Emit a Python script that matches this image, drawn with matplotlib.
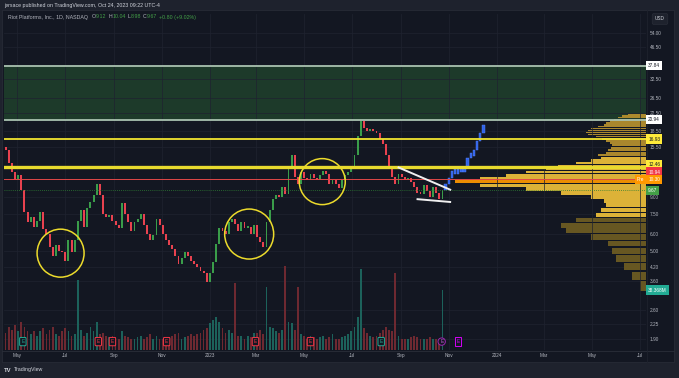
import numpy as np
import pandas as pd
import matplotlib
matplotlib.use('Agg')
import matplotlib.pyplot as plt
import matplotlib.dates as mdates
from matplotlib.patches import Ellipse, Rectangle
from matplotlib.transforms import blended_transform_factory as blend
from matplotlib.ticker import NullLocator, FixedLocator, FixedFormatter

plt.rcParams['font.family'] = ['Liberation Sans', 'DejaVu Sans']

# ---------------- data ----------------
start_date = '2022-04-16'
first_open = 15.6
closes = [15.0, 13.0, 11.8, 10.8, 11.4, 9.7, 7.6, 6.8, 7.2, 6.5,
          6.9, 7.6, 6.3, 6.0, 5.2, 4.7, 5.3, 5.0, 4.9, 4.45,
          5.6, 4.9, 5.6, 6.9, 7.8, 6.5, 8.0, 8.5, 9.2, 10.4,
          9.2, 7.5, 7.2, 7.4, 6.9, 6.6, 6.4, 8.4, 7.5, 6.8,
          6.2, 6.8, 7.1, 7.5, 6.6, 6.0, 5.6, 5.9, 7.1, 6.6,
          6.0, 5.6, 5.3, 5.1, 4.7, 4.3, 4.6, 4.9, 4.7, 4.45,
          4.3, 4.2, 4.0, 3.9, 3.55, 3.9, 4.4, 5.4, 6.4, 6.2,
          6.0, 6.8, 7.1, 6.7, 6.2, 6.8, 6.4, 6.5, 6.0, 6.6,
          5.8, 5.5, 5.2, 6.8, 7.8, 8.8, 9.2, 9.0, 10.0, 9.3,
          12.6, 14.2, 11.2, 10.4, 11.8, 11.0, 10.8, 11.6, 11.0, 10.8,
          11.4, 12.0, 11.6, 10.4, 10.8, 10.4, 9.9, 10.8, 11.4, 11.8,
          12.6, 14.2, 17.5, 20.6, 19.2, 18.4, 19.0, 18.4, 18.0, 17.0,
          16.0, 14.2, 12.6, 11.2, 10.4, 11.6, 11.2, 10.8, 11.0, 10.6,
          10.0, 9.4, 9.3, 10.2, 9.6, 9.0, 10.0, 9.4, 8.8, 9.67]
volumes = [11, 15, 13, 16, 12, 18, 15, 12, 10, 12,
           9, 12, 14, 10, 13, 15, 10, 9, 12, 14,
           12, 9, 10, 45, 13, 9, 11, 15, 12, 18,
           10, 11, 9, 8, 9, 8, 7, 12, 9, 8,
           7, 7, 8, 9, 7, 8, 10, 7, 9, 7,
           7, 7, 8, 9, 10, 11, 7, 8, 9, 10,
           9, 10, 11, 13, 14, 17, 19, 21, 18, 14,
           11, 13, 11, 43, 9, 9, 7, 9, 8, 11,
           11, 13, 10, 40, 15, 14, 12, 11, 13, 54,
           18, 17, 13, 40, 10, 9, 7, 9, 8, 7,
           8, 9, 7, 8, 10, 7, 7, 8, 9, 10,
           12, 15, 21, 52, 14, 11, 9, 8, 9, 11,
           13, 15, 13, 12, 49, 9, 7, 7, 7, 8,
           9, 8, 7, 7, 7, 8, 7, 7, 6, 38.368]
proj_closes = [10.4, 11.0, 12.0, 11.6, 12.0, 11.8, 12.4, 13.8, 14.0, 15.0, 16.5, 18.0, 19.8]

vp_prices = [3.4, 3.8, 4.2, 4.6, 5.0, 5.4, 5.8, 6.2, 6.6, 7.0, 7.4, 7.8, 8.2, 8.6, 9.0, 9.4,
             9.8, 10.2, 10.6, 11.0, 11.4, 11.8, 12.2, 12.6, 13.0, 13.4, 13.8, 14.2, 14.6, 15.0,
             15.4, 15.8, 16.2, 16.6, 17.0, 17.4, 17.8, 18.2, 18.6, 19.0, 19.4, 19.8, 20.2, 20.6,
             21.0, 21.4, 21.8, 22.2]
vp_volumes = [6, 14, 22, 30, 34, 38, 55, 80, 85, 70, 50, 45, 40, 42, 55, 85,
              120, 165, 190, 165, 140, 120, 100, 88, 70, 55, 45, 48, 40, 38,
              35, 34, 36, 40, 44, 50, 58, 60, 58, 55, 48, 42, 40, 36,
              32, 28, 24, 18]
value_area = (7.3, 14.0)

zone_top, zone_bottom = 37.84, 20.94
level_thin, level_thick = 16.93, 12.46
red_line = 10.94
close_line = 9.67
circles = [('2022-06-25', 4.86, 47, 48), ('2023-02-20', 5.99, 49, 50), ('2023-05-24', 10.63, 46, 46)]
trend_upper = [('2023-08-28', 12.46), ('2023-11-04', 9.69)]
trend_lower = [('2023-09-21', 8.78), ('2023-11-04', 8.50)]

price_ticks = [54, 46.5, 32.5, 26.5, 22.5, 18.5, 15.5, 9.0, 7.5, 6.0, 5.0, 4.2, 3.6, 2.6, 2.25, 1.9]
price_tags = [(37.84, '37.84', '#ffffff', '#131722', 0.0),
              (20.94, '20.94', '#ffffff', '#131722', 0.0),
              (16.93, '16.93', '#ffeb3b', '#131722', 0.0),
              (12.46, '12.46', '#ffeb3b', '#131722', 1.8),
              (10.94, '10.94', '#f23645', '#ffffff', 5.0),
              (10.30, '10.30', '#ff9800', '#ffffff', 3.6),
              (9.67, '9.67', '#43a047', '#ffffff', 0.0)]
month_ticks = ['2022-05-01', '2022-07-01', '2022-09-01', '2022-11-01', '2023-01-01', '2023-03-01',
               '2023-05-01', '2023-07-01', '2023-09-01', '2023-11-01', '2024-01-01', '2024-03-01',
               '2024-05-01', '2024-07-01']
month_labels = ['May', 'Jul', 'Sep', 'Nov', '2023', 'Mar', 'May', 'Jul', 'Sep', 'Nov', '2024', 'Mar', 'May', 'Jul']
event_dates = ['2022-05-08', '2022-08-12', '2022-08-30', '2022-11-07', '2023-02-28', '2023-05-09',
               '2023-08-07', '2023-10-23', '2023-11-13']
event_kinds = ['up', 'down', 'down', 'down', 'down', 'down', 'up', 'circle', 'square']

# ---------------- figure ----------------
W, H = 679, 378
fig = plt.figure(figsize=(W / 100, H / 100), dpi=100)
fig.patch.set_facecolor('#1e222d')
fx = lambda p: p / W
fy = lambda p: 1 - p / H

fig.add_artist(Rectangle((fx(2), fy(362)), fx(674) - fx(2), fy(10) - fy(362),
                         transform=fig.transFigure, fc='#131722', ec='#2a2e39', lw=0.5, zorder=0))

ax = fig.add_axes([fx(4), fy(350), fx(646) - fx(4), fy(14) - fy(350)])
ax.set_yscale('log')
ax_vp = ax.twiny()
ax_vol = ax.twinx()
ax_vp.set_yscale('log')
ax_vp.set_zorder(0)
ax_vol.set_zorder(1)
ax.set_zorder(2)
ax.patch.set_visible(False)
ax_vol.patch.set_visible(False)
ax_vp.patch.set_facecolor('#131722')

ymin, ymax = 1.685, 66.5
x0, x1 = mdates.date2num(pd.Timestamp('2022-04-14')), mdates.date2num(pd.Timestamp('2024-07-09'))
ax.set_ylim(ymin, ymax)
ax.set_xlim(x0, x1)

for a in (ax, ax_vp, ax_vol):
    for s in a.spines.values():
        s.set_visible(False)

# candle series
dates = pd.date_range(start_date, periods=len(closes), freq='4D')
xd = mdates.date2num(dates)
opens = [first_open] + closes[:-1]
up_c, dn_c = '#3a9d4a', '#e8424f'
cols = [up_c if c >= o else dn_c for o, c in zip(opens, closes)]
bottoms = [min(o, c) for o, c in zip(opens, closes)]
heights = [max(abs(c - o), 0.02 * c) for o, c in zip(opens, closes)]
ax.bar(xd, heights, bottom=bottoms, width=2.4, color=cols, linewidth=0, zorder=4)

# projection (blue bars)
pdates = pd.date_range(dates[-1] + pd.Timedelta(days=4), periods=len(proj_closes), freq='4D')
pxd = mdates.date2num(pdates)
popens = [closes[-1]] + proj_closes[:-1]
pb = [min(o, c) for o, c in zip(popens, proj_closes)]
ph = [max(abs(c - o), 0.05 * c) for o, c in zip(popens, proj_closes)]
ax.bar(pxd, ph, bottom=pb, width=3.0, color='#2f62e8', edgecolor='#5b86ff', linewidth=0.3, zorder=4)

# volume
vcols = ['#1c625b' if c >= o else '#6e2931' for o, c in zip(opens, closes)]
ax_vol.bar(xd, volumes, width=2.3, color=vcols, linewidth=0, zorder=1)
ax_vol.set_ylim(0, 215)
ax_vol.set_yticks([])

# volume profile
ax_vp.set_xlim(640, 0)
vp_cols = []
for p, v in zip(vp_prices, vp_volumes):
    if v == max(vp_volumes):
        vp_cols.append('#ff9800')
    elif value_area[0] <= p <= value_area[1]:
        vp_cols.append('#eec03a')
    elif p > value_area[1]:
        vp_cols.append('#b8922e')
    else:
        vp_cols.append('#6f5d22')
ax_vp.barh(vp_prices, vp_volumes, height=0.34, color=vp_cols, linewidth=0, zorder=2, alpha=0.92)
ax_vp.set_xticks([])

# green zone
ax_vp.axhspan(zone_bottom, zone_top, color='#1d3a2a', zorder=1, lw=0)
ax.axhline(zone_top, color='#a9c2b0', lw=1.3, zorder=3)
ax.axhline(zone_bottom, color='#a9c2b0', lw=1.3, zorder=3)

# grid
for t in month_ticks:
    ax_vol.axvline(mdates.date2num(pd.Timestamp(t)), color='#1f2330', lw=0.5, zorder=0)
for p in price_ticks:
    ax_vp.axhline(p, color='#1f2330', lw=0.5, zorder=1.5)

# level lines
ax.axhline(level_thin, color='#f2e530', lw=1.3, zorder=5)
ax.axhline(level_thick, color='#e8da2e', lw=2.4, zorder=5)
ax.axhline(red_line, color='#e04848', lw=0.7, zorder=5)
ax.axhline(close_line, color='#2e7d32', lw=0.6, ls=(0, (1, 1.5)), zorder=5)

# trend lines
for seg in (trend_upper, trend_lower):
    ax.plot([mdates.date2num(pd.Timestamp(d)) for d, _ in seg], [p for _, p in seg],
            color='#f0f0f0', lw=1.4, zorder=6, solid_capstyle='butt')

# circles
for d, p, wpx, hpx in circles:
    disp = ax.transData.transform((mdates.date2num(pd.Timestamp(d)), p))
    cx, cy = ax.transAxes.inverted().transform(disp)
    ax.add_patch(Ellipse((cx, cy), wpx / 642, hpx / 336, transform=ax.transAxes,
                         fill=False, ec='#ecdb2c', lw=1.1, zorder=6))

# axes ticks
ax.set_xticks([mdates.date2num(pd.Timestamp(t)) for t in month_ticks])
ax.set_xticklabels(month_labels)
ax.tick_params(axis='x', length=0, labelsize=3.4, colors='#b2b5be', pad=2.5)
ax.yaxis.tick_right()
ax.yaxis.set_major_locator(FixedLocator(price_ticks))
ax.yaxis.set_major_formatter(FixedFormatter(['%.2f' % p for p in price_ticks]))
ax.yaxis.set_minor_locator(NullLocator())
ax.tick_params(axis='y', length=0, labelsize=3.4, colors='#b2b5be', pad=2.5)
ax_vp.yaxis.set_minor_locator(NullLocator())

# price tags
tr = blend(ax.transAxes, ax.transData)
for p, s, fc, tc, off in price_tags:
    ax.annotate(s, xy=(1.0, p), xycoords=tr, xytext=(1.5, off), textcoords='offset points',
                ha='left', va='center', fontsize=3.4, color=tc, annotation_clip=False,
                bbox=dict(boxstyle='square,pad=0.45', fc=fc, ec='none'), zorder=10)
ax.annotate('Pre', xy=(1.0, 10.30), xycoords=tr, xytext=(-1.5, 3.6), textcoords='offset points',
            ha='right', va='center', fontsize=3.4, color='#ffffff', annotation_clip=False,
            bbox=dict(boxstyle='square,pad=0.35', fc='#ff9800', ec='none'), zorder=10)
ax.annotate('%.3fM' % volumes[-1], xy=(1.0, volumes[-1]), xycoords=blend(ax.transAxes, ax_vol.transData),
            xytext=(1.5, 0), textcoords='offset points', ha='left', va='center', fontsize=3.4,
            color='#ffffff', annotation_clip=False,
            bbox=dict(boxstyle='square,pad=0.45', fc='#22ab94', ec='none'), zorder=10)

# events
te = blend(ax.transData, ax.transAxes)
for d, k in zip(event_dates, event_kinds):
    xv = mdates.date2num(pd.Timestamp(d))
    if k == 'up':
        ec, tc, bs = '#22ab94', '#22ab94', 'round,pad=0.35,rounding_size=0.2'
    elif k == 'down':
        ec, tc, bs = '#f23645', '#f23645', 'round,pad=0.35,rounding_size=0.2'
    elif k == 'circle':
        ec, tc, bs = '#9c27b0', '#c25bd6', 'circle,pad=0.25'
    else:
        ec, tc, bs = '#d500f9', '#d500f9', 'square,pad=0.35'
    ax.text(xv, 0.025, 'E', transform=te, ha='center', va='center', fontsize=3.4, color=tc,
            bbox=dict(boxstyle=bs, fc='#131722', ec=ec, lw=0.7), zorder=9)

# separators
fig.add_artist(plt.Line2D([fx(2), fx(674)], [fy(350.5), fy(350.5)], transform=fig.transFigure,
                          color='#2a2e39', lw=0.6))
fig.add_artist(plt.Line2D([fx(646.5), fx(646.5)], [fy(10), fy(362)], transform=fig.transFigure,
                          color='#1e222d', lw=0.6))

# header & footer texts
fig.text(fx(4), fy(5), 'jersace published on TradingView.com, Oct 24, 2023 09:22 UTC-4',
         fontsize=3.8, color='#d1d4dc', va='center', ha='left')
fig.text(fx(660), fy(19), 'USD', fontsize=3.4, color='#d1d4dc', va='center', ha='center',
         bbox=dict(boxstyle='round,pad=0.6,rounding_size=0.3', fc='#1e222d', ec='#2a2e39', lw=0.5))

r = fig.canvas.get_renderer()
grey, green = '#b2b5be', '#43a047'
pieces = [('Riot Platforms, Inc., 1D, NASDAQ', grey, 4), ('O', grey, 0), ('9.12', green, 2),
          ('H', grey, 0), ('10.04', green, 2), ('L', grey, 0), ('8.98', green, 2),
          ('C', grey, 0), ('9.67', green, 2), ('+0.80 (+9.02%)', green, 0)]
xc = fx(8)
for s, c, gap in pieces:
    t = fig.text(xc, fy(17), s, fontsize=3.8, color=c, va='center', ha='left')
    bb = t.get_window_extent(renderer=r)
    xc += (bb.width + gap) / W

fig.text(fx(4), fy(370), 'TV', fontsize=4.2, color='#d1d4dc', va='center', ha='left', fontweight='bold')
fig.text(fx(14), fy(370), 'TradingView', fontsize=3.8, color='#d1d4dc', va='center', ha='left')

fig.savefig('out.png', dpi=100, facecolor=fig.get_facecolor())
